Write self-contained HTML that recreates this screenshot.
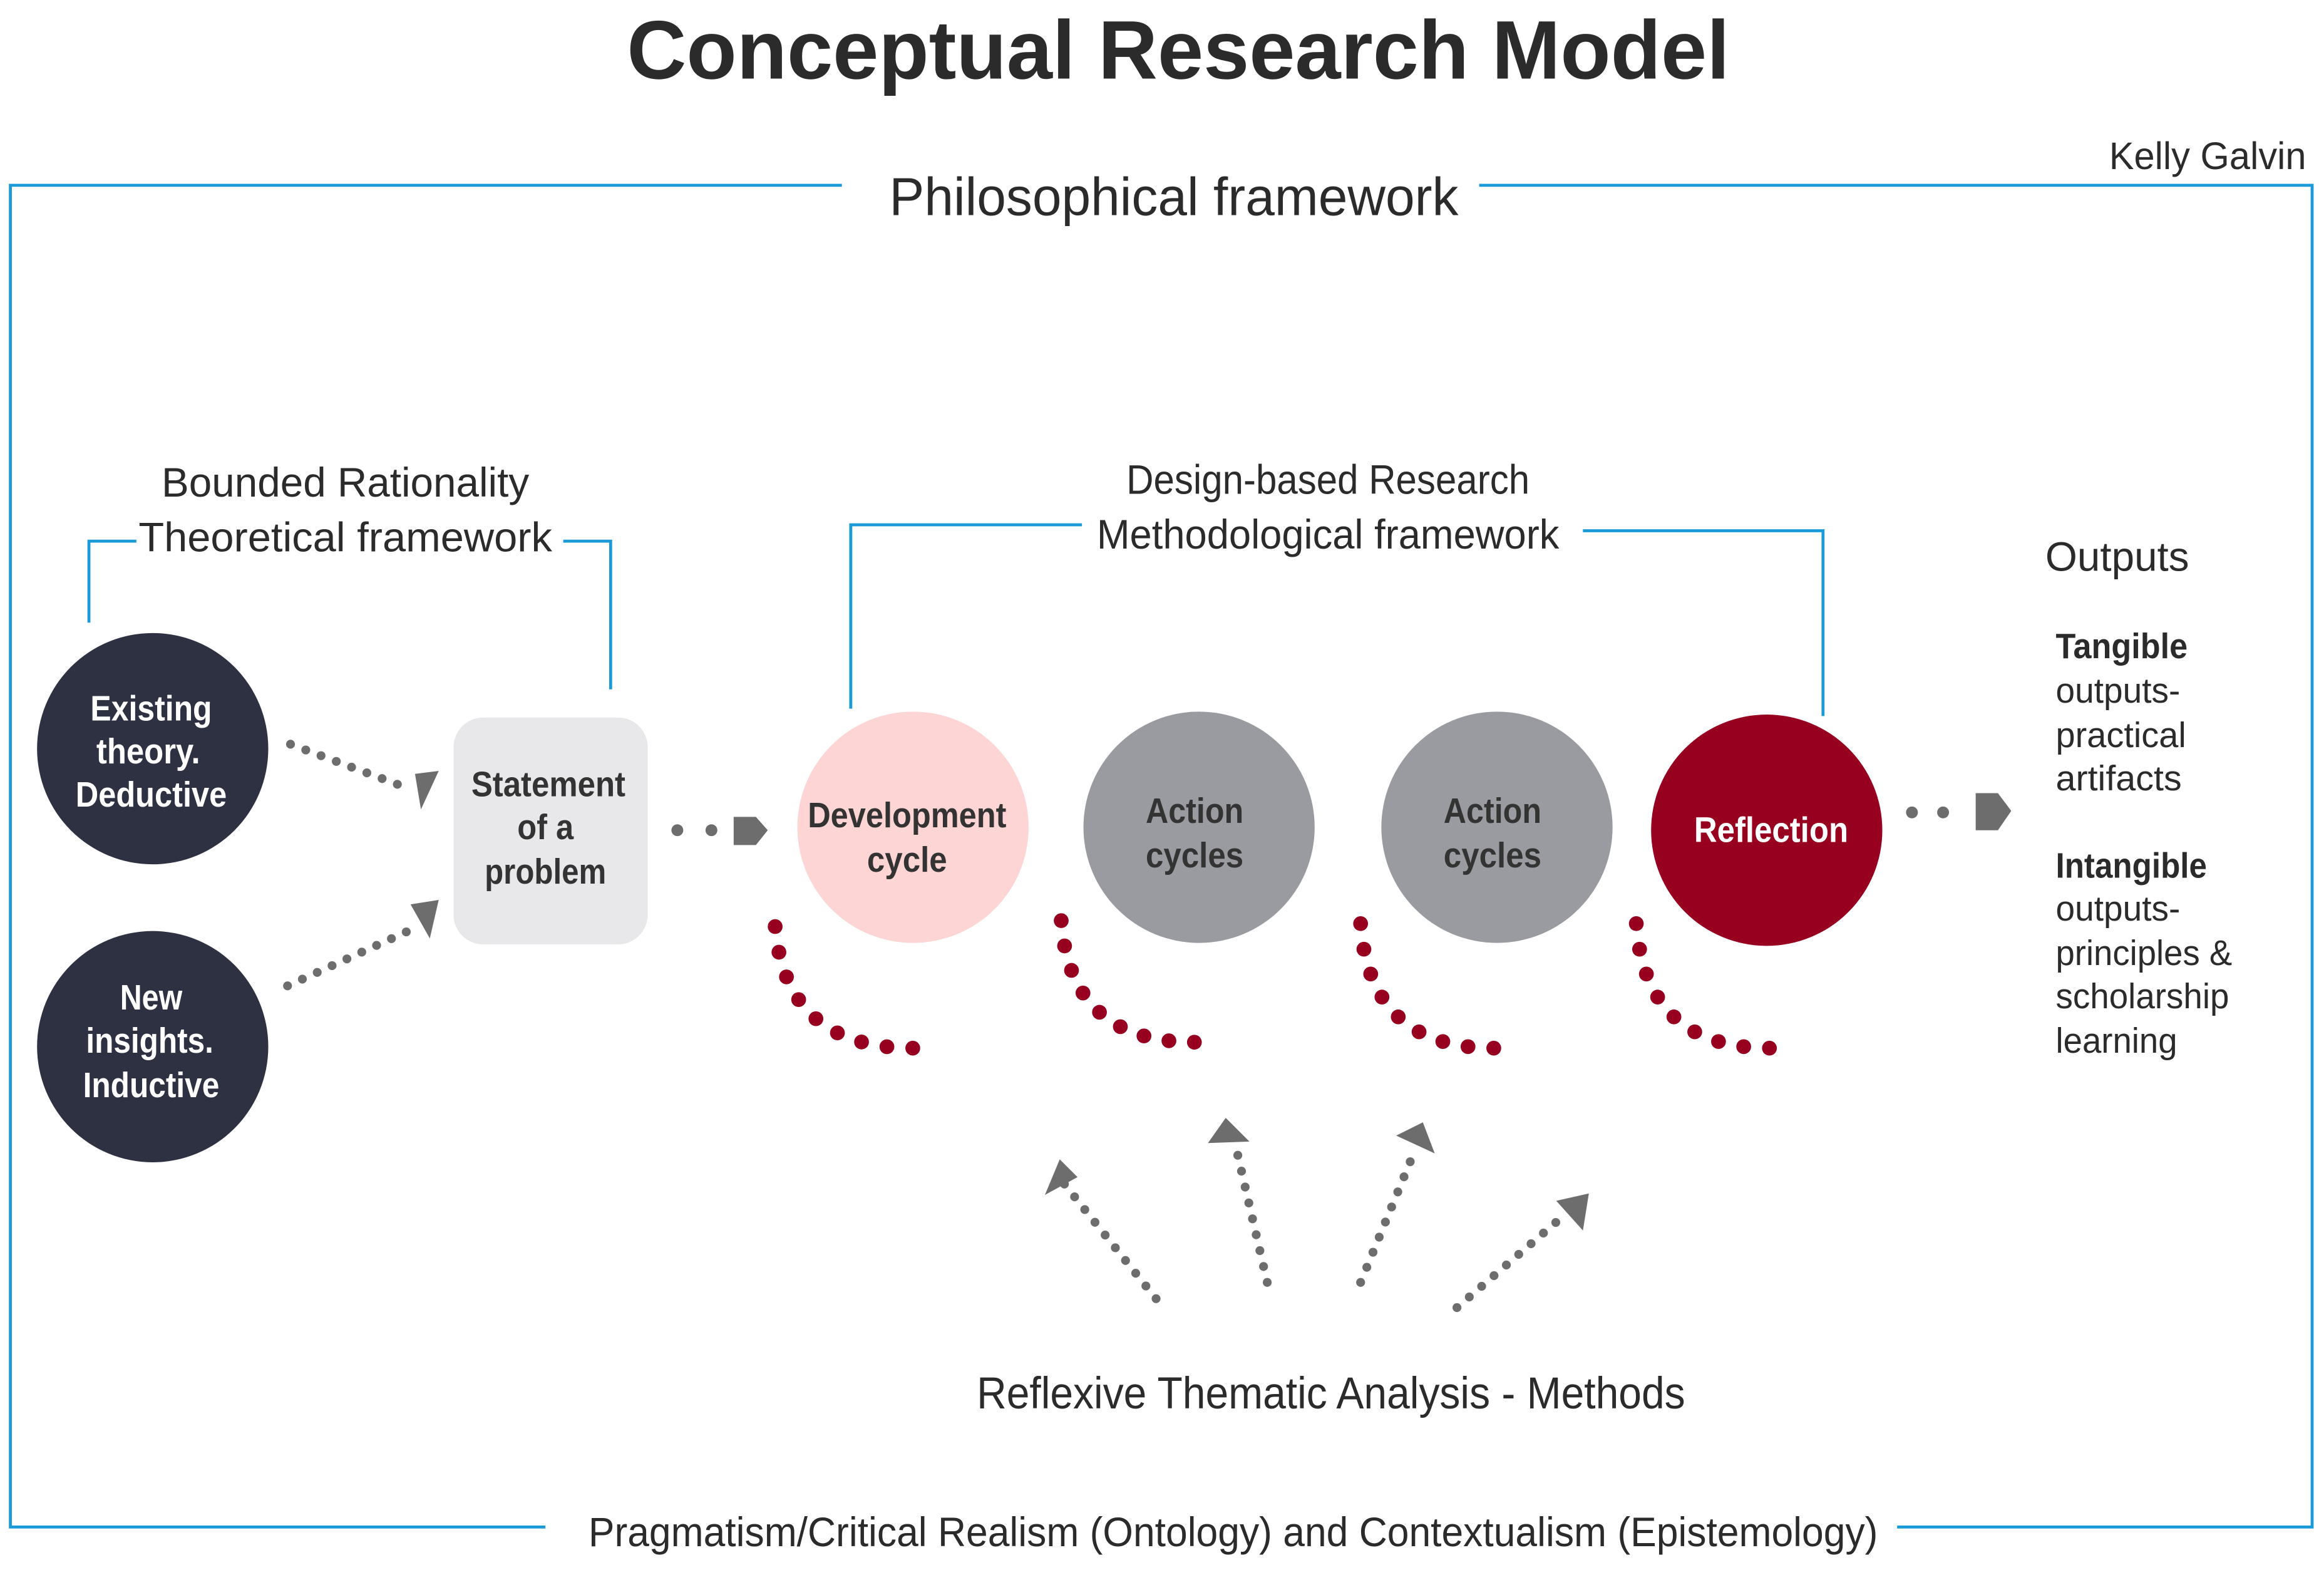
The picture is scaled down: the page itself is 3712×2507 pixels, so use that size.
<!DOCTYPE html>
<html><head><meta charset="utf-8"><style>
html,body{margin:0;padding:0;background:#fff;}
svg{display:block;}
text{font-family:"Liberation Sans Narrow","Liberation Sans",sans-serif;}
</style></head><body>
<svg width="3712" height="2507" viewBox="0 0 1568 1059" xmlns="http://www.w3.org/2000/svg">
<rect width="1568" height="1059" fill="#fff"/>
<text x="795" y="53" font-size="56" font-weight="bold" fill="#2b2b2b" text-anchor="middle" textLength="744" lengthAdjust="spacingAndGlyphs">Conceptual Research Model</text>
<text x="1556" y="114" font-size="26" fill="#2b2b2b" text-anchor="end" textLength="133" lengthAdjust="spacingAndGlyphs">Kelly Galvin</text>
<g stroke="#1a9ad6" stroke-width="2" fill="none">
<polyline points="568,125 7,125 7,1030 368,1030"/>
<polyline points="998,125 1560,125 1560,1030 1280,1030"/>
<polyline points="60,420 60,365 92,365"/>
<polyline points="380,365 412,365 412,465"/>
<polyline points="574,478 574,354 730,354"/>
<polyline points="1068,358 1230,358 1230,483"/>
</g>
<text x="792" y="145" font-size="36" fill="#2b2b2b" text-anchor="middle" textLength="384" lengthAdjust="spacingAndGlyphs">Philosophical framework</text>
<text x="233" y="335" font-size="28" fill="#2b2b2b" text-anchor="middle" textLength="248" lengthAdjust="spacingAndGlyphs">Bounded Rationality</text>
<text x="233" y="372" font-size="28" fill="#2b2b2b" text-anchor="middle" textLength="279" lengthAdjust="spacingAndGlyphs">Theoretical framework</text>
<text x="896" y="333" font-size="28" fill="#2b2b2b" text-anchor="middle" textLength="272" lengthAdjust="spacingAndGlyphs">Design-based Research</text>
<text x="896" y="370" font-size="28" fill="#2b2b2b" text-anchor="middle" textLength="312" lengthAdjust="spacingAndGlyphs">Methodological framework</text>
<circle cx="103" cy="505" r="78" fill="#2e3142"/>
<circle cx="103" cy="706" r="78" fill="#2e3142"/>
<g font-size="24" font-weight="bold" fill="#fff" text-anchor="middle">
<text x="102" y="486" textLength="82" lengthAdjust="spacingAndGlyphs">Existing</text>
<text x="100" y="515" textLength="70" lengthAdjust="spacingAndGlyphs">theory.</text>
<text x="102" y="544" textLength="102" lengthAdjust="spacingAndGlyphs">Deductive</text>
<text x="102" y="681" textLength="42" lengthAdjust="spacingAndGlyphs">New</text>
<text x="101" y="710" textLength="86" lengthAdjust="spacingAndGlyphs">insights.</text>
<text x="102" y="740" textLength="92" lengthAdjust="spacingAndGlyphs">Inductive</text>
</g>
<rect x="306" y="484" width="131" height="153" rx="20" fill="#e8e8ea"/>
<g font-size="24" font-weight="bold" fill="#333" text-anchor="middle">
<text x="370" y="537" textLength="104" lengthAdjust="spacingAndGlyphs">Statement</text>
<text x="368" y="566" textLength="38" lengthAdjust="spacingAndGlyphs">of a</text>
<text x="368" y="596" textLength="82" lengthAdjust="spacingAndGlyphs">problem</text>
</g>
<g stroke="#6d6d6d" stroke-width="6" stroke-linecap="round" stroke-dasharray="0 11" fill="none">
<line x1="196" y1="502" x2="276" y2="532"/>
<line x1="194" y1="665" x2="282" y2="625"/>
<line x1="780" y1="876" x2="716" y2="796"/>
<line x1="855" y1="865" x2="833" y2="770"/>
<line x1="918" y1="865" x2="955" y2="775"/>
<line x1="983" y1="882" x2="1055" y2="820"/>
<line x1="457" y1="560" x2="482" y2="560" stroke-width="8" stroke-dasharray="0 23"/>
<line x1="1290" y1="548" x2="1312" y2="548" stroke-width="8" stroke-dasharray="0 21"/>
</g>
<g fill="#6d6d6d">
<polygon points="280,522 296,520 284,546"/>
<polygon points="277,610 296,607 290,633"/>
<polygon points="495,551 510,551 518,560 510,570 495,570"/>
<polygon points="1333,535 1348,535 1357,547 1348,560 1333,560"/>
<polygon points="705,806 715,782 727,794"/>
<polygon points="815,771 827,754 843,770"/>
<polygon points="942,766 960,757 968,778"/>
<polygon points="1050,810 1072,805 1068,830"/>
</g>
<circle cx="616" cy="558" r="78" fill="#fdd5d5"/>
<circle cx="809" cy="558" r="78" fill="#9a9ba0"/>
<circle cx="1010" cy="558" r="78" fill="#9a9ba0"/>
<circle cx="1192" cy="560" r="78" fill="#97001f"/>
<g font-size="24" font-weight="bold" text-anchor="middle" fill="#333">
<text x="612" y="558" textLength="134" lengthAdjust="spacingAndGlyphs">Development</text>
<text x="612" y="588" textLength="54" lengthAdjust="spacingAndGlyphs">cycle</text>
<text x="806" y="555" textLength="66" lengthAdjust="spacingAndGlyphs">Action</text>
<text x="806" y="585" textLength="66" lengthAdjust="spacingAndGlyphs">cycles</text>
<text x="1007" y="555" textLength="66" lengthAdjust="spacingAndGlyphs">Action</text>
<text x="1007" y="585" textLength="66" lengthAdjust="spacingAndGlyphs">cycles</text>
<text x="1195" y="568" fill="#fff" textLength="104" lengthAdjust="spacingAndGlyphs">Reflection</text>
</g>
<g stroke="#97001f" stroke-width="10" stroke-linecap="round" stroke-dasharray="0 1" fill="none">
<path pathLength="8" d="M523,625 Q530,707 616,707"/>
<path pathLength="8" d="M716,621 Q722,703 806,703"/>
<path pathLength="8" d="M918,623 Q924,707 1008,707"/>
<path pathLength="8" d="M1104,623 Q1110,707 1194,707"/>
</g>
<text x="898" y="950" font-size="30" fill="#2b2b2b" text-anchor="middle" textLength="478" lengthAdjust="spacingAndGlyphs">Reflexive Thematic Analysis - Methods</text>
<text x="832" y="1043" font-size="28" fill="#2b2b2b" text-anchor="middle" textLength="870" lengthAdjust="spacingAndGlyphs">Pragmatism/Critical Realism (Ontology) and Contextualism (Epistemology)</text>
<text x="1380" y="385" font-size="28" fill="#2b2b2b" textLength="97" lengthAdjust="spacingAndGlyphs">Outputs</text>
<g font-size="24" fill="#2b2b2b">
<text x="1387" y="444" font-weight="bold" textLength="89" lengthAdjust="spacingAndGlyphs">Tangible</text>
<text x="1387" y="474" textLength="84" lengthAdjust="spacingAndGlyphs">outputs-</text>
<text x="1387" y="504" textLength="88" lengthAdjust="spacingAndGlyphs">practical</text>
<text x="1387" y="533" textLength="85" lengthAdjust="spacingAndGlyphs">artifacts</text>
<text x="1387" y="592" font-weight="bold" textLength="102" lengthAdjust="spacingAndGlyphs">Intangible</text>
<text x="1387" y="621" textLength="84" lengthAdjust="spacingAndGlyphs">outputs-</text>
<text x="1387" y="651" textLength="119" lengthAdjust="spacingAndGlyphs">principles &amp;</text>
<text x="1387" y="680" textLength="117" lengthAdjust="spacingAndGlyphs">scholarship</text>
<text x="1387" y="710" textLength="82" lengthAdjust="spacingAndGlyphs">learning</text>
</g>
</svg>
</body></html>
